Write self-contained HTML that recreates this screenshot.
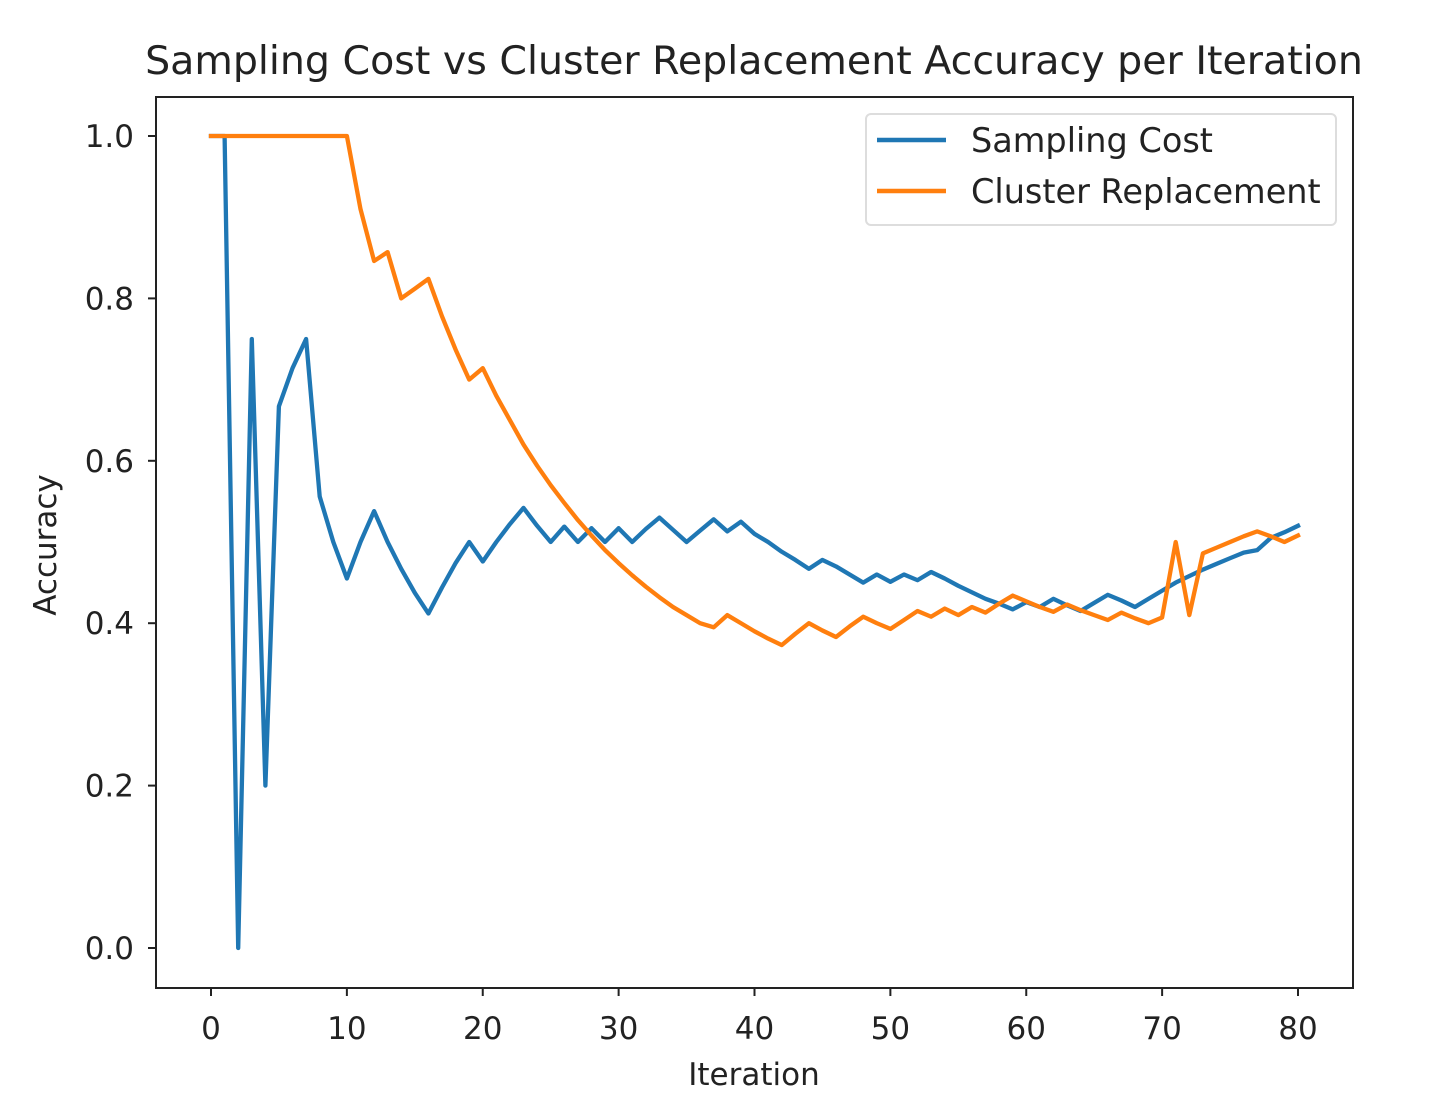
<!DOCTYPE html>
<html><head><meta charset="utf-8"><style>
html,body{margin:0;padding:0;background:#fff;}
svg{display:block;font-family:"DejaVu Sans","Liberation Sans",sans-serif;}
</style></head><body>
<svg id="chart" width="1436" height="1114" viewBox="0 0 1436 1114">
<text x="754" y="74" font-size="39.5" text-anchor="middle" fill="#222">Sampling Cost vs Cluster Replacement Accuracy per Iteration</text>
<g id="axes"></g>
<g id="series"></g>
<rect x="156" y="97" width="1197" height="891" fill="none" stroke="#222" stroke-width="2"/>
<text x="754" y="1085" font-size="31" text-anchor="middle" fill="#222">Iteration</text>
<text transform="translate(56,545) rotate(-90)" font-size="31" text-anchor="middle" fill="#222">Accuracy</text>
<g>
<rect x="866" y="114" width="470" height="111" rx="5" fill="#fff" stroke="#ddd" stroke-width="2"/>
<line x1="877" y1="140" x2="946" y2="140" stroke="#1f77b4" stroke-width="4.5"/>
<text x="971" y="152" font-size="33.5" fill="#222">Sampling Cost</text>
<line x1="877" y1="191" x2="946" y2="191" stroke="#ff7f0e" stroke-width="4.5"/>
<text x="971" y="203" font-size="33.5" fill="#222">Cluster Replacement</text>
</g>
</svg>
<script>
const xTicks = [0,10,20,30,40,50,60,70,80];
const yTicks = [0.0,0.2,0.4,0.6,0.8,1.0];
const samplingCost = [1.0,1.0,0.0,0.75,0.2,0.667,0.714,0.75,0.556,0.5,0.455,0.5,0.538,0.5,0.467,0.4375,0.412,0.444,0.474,0.5,0.476,0.5,0.522,0.542,0.52,0.5,0.519,0.5,0.517,0.5,0.517,0.5,0.516,0.53,0.515,0.5,0.514,0.528,0.513,0.525,0.51,0.5,0.488,0.478,0.467,0.478,0.47,0.46,0.45,0.46,0.451,0.46,0.453,0.463,0.455,0.446,0.438,0.43,0.424,0.417,0.426,0.42,0.43,0.422,0.415,0.425,0.435,0.428,0.42,0.43,0.44,0.45,0.458,0.466,0.473,0.48,0.487,0.49,0.505,0.512,0.52];
const clusterReplacement = [1,1,1,1,1,1,1,1,1,1,1,0.91,0.846,0.857,0.8,0.812,0.824,0.778,0.737,0.7,0.714,0.68,0.65,0.62,0.594,0.57,0.548,0.527,0.508,0.49,0.474,0.459,0.445,0.432,0.42,0.41,0.4,0.395,0.41,0.4,0.39,0.381,0.373,0.387,0.4,0.391,0.383,0.396,0.408,0.4,0.393,0.404,0.415,0.408,0.418,0.41,0.42,0.413,0.424,0.434,0.427,0.42,0.414,0.423,0.416,0.41,0.404,0.413,0.406,0.4,0.407,0.5,0.41,0.486,0.493,0.5,0.507,0.513,0.507,0.5,0.508];

const NS='http://www.w3.org/2000/svg';
const xs = v => 211 + v*(1298-211)/80;
const ys = v => 948 - v*(948-136);
const axes=document.getElementById('axes');
function mk(tag,attrs,parent){const e=document.createElementNS(NS,tag);for(const k in attrs)e.setAttribute(k,attrs[k]);parent.appendChild(e);return e;}
xTicks.forEach(t=>{
  const l=mk('line',{x1:xs(t),x2:xs(t),y1:988,y2:996,stroke:'#222','stroke-width':2},axes);
  
  
  const tx=mk('text',{x:xs(t),y:1039,'font-size':31,'text-anchor':'middle',fill:'#222'},axes);
  tx.textContent=String(t);
  
  
});
yTicks.forEach(t=>{
  const l=mk('line',{x1:148,x2:156,y1:ys(t),y2:ys(t),stroke:'#222','stroke-width':2},axes);
  
  
  const tx=mk('text',{x:134,y:ys(t)+11,'font-size':31,'text-anchor':'end',fill:'#222'},axes);
  tx.textContent=t.toFixed(1);
  
  
});
const sg=document.getElementById('series');
function draw(data,color,name){
  const pts=data.map((v,i)=>xs(i).toFixed(1)+','+ys(v).toFixed(1)).join(' ');
  const p=mk('polyline',{points:pts,fill:'none',stroke:color,'stroke-width':4.3,'stroke-linejoin':'round','stroke-linecap':'square'},sg);
  
  
}
draw(samplingCost,'#1f77b4','sampling-cost-line');
draw(clusterReplacement,'#ff7f0e','cluster-replacement-line');
</script>
</body></html>
